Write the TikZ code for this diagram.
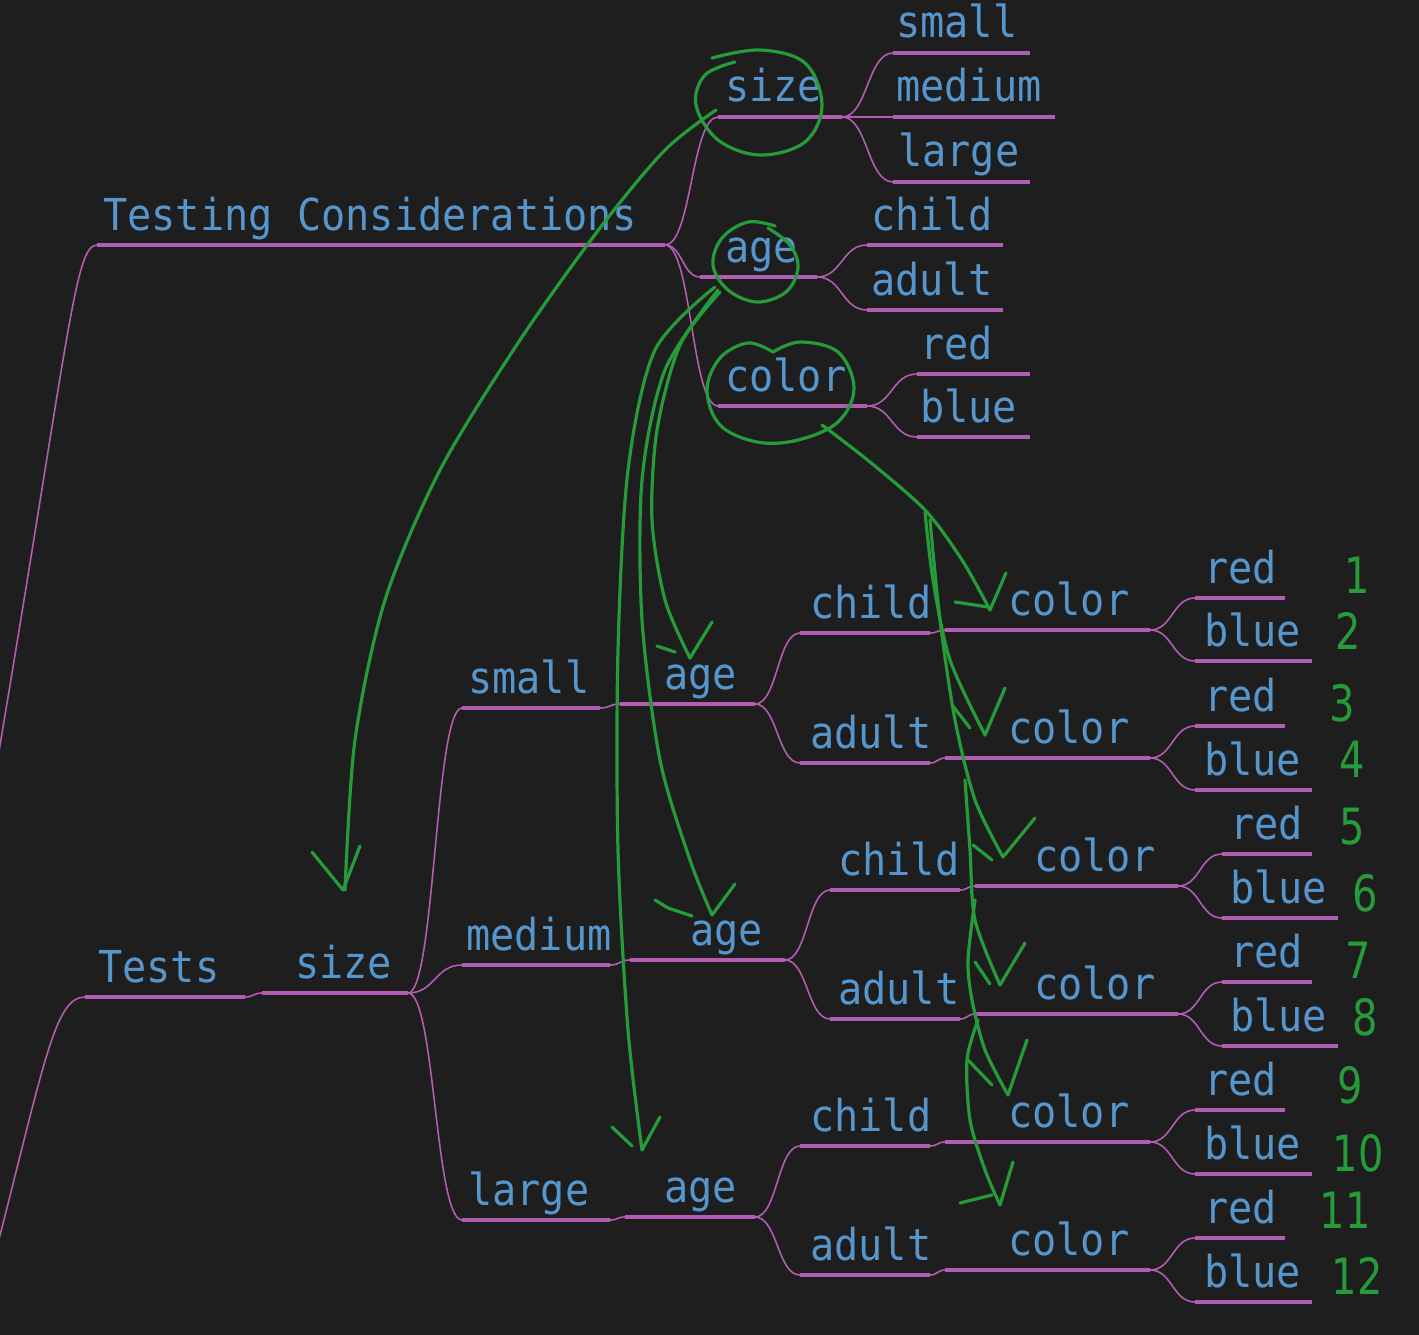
\documentclass[tikz,border=0pt]{standalone}
\usepackage{fontspec}
\usetikzlibrary{calc}
\newfontfamily\mmfont[FakeStretch=0.915]{DejaVu Sans Mono}
\newfontfamily\numfont[FakeStretch=0.8]{DejaVu Sans}
\definecolor{bg}{HTML}{1E1E1E}
\definecolor{txt}{RGB}{86,150,205}
\definecolor{lin}{RGB}{178,92,178}
\definecolor{pen}{RGB}{38,155,58}
\tikzset{
  lbl/.style={text=txt, font=\mmfont\fontsize{44}{50}\selectfont, inner sep=0pt, anchor=base west},
  uline/.style={draw=lin, line width=3.2pt},
  conn/.style={draw=lin, line width=1.6pt},
  penline/.style={draw=pen, line width=3.2pt, line cap=round, line join=round},
  numlbl/.style={text=pen, font=\numfont\fontsize{50}{56}\selectfont, inner sep=0pt},
}
\newcommand\mmitem[6]{%
  \coordinate (#1s) at (#2,#4);
  \coordinate (#1e) at (#3,#4);
  \draw[uline] (#1s) -- (#1e);
  \node[lbl] (#1) at (#5,#4-15) {#6};
}
\newcommand\mmlink[2]{%
  \draw[conn] let \p1=(#1e), \p2=(#2s) in
    (\p1) .. controls ({0.5*\x1+0.5*\x2},\y1) and ({0.5*\x1+0.5*\x2},\y2) .. (\p2);
}
\begin{document}
\begin{tikzpicture}[x=1pt,y=-1pt]
\fill[bg] (0,0) rectangle (1419,1335);
\useasboundingbox (0,0) rectangle (1419,1335);
\clip (0,0) rectangle (1419,1335);

% ---------- top tree ----------
\mmitem{tc}{97}{665}{245}{103}{Testing Considerations}
\mmitem{tsize}{718}{842}{117}{725}{size}
\mmitem{tsmall}{893}{1030}{53}{896}{small}
\mmitem{tmed}{893}{1055}{117}{896}{medium}
\mmitem{tlarge}{893}{1030}{182}{898}{large}
\mmitem{tage}{700}{817}{277}{725}{age}
\mmitem{tchild}{867}{1003}{245}{871}{child}
\mmitem{tadult}{867}{1003}{310}{871}{adult}
\mmitem{tcolor}{718}{867}{406}{725}{color}
\mmitem{tred}{917}{1030}{374}{920}{red}
\mmitem{tblue}{917}{1030}{437}{920}{blue}

\coordinate (offA) at (-5,775);
\draw[conn] (offA) .. controls (70,330) and (75,245) .. (tcs);
\mmlink{tc}{tsize}\mmlink{tc}{tage}\mmlink{tc}{tcolor}
\mmlink{tsize}{tsmall}\mmlink{tsize}{tmed}\mmlink{tsize}{tlarge}
\mmlink{tage}{tchild}\mmlink{tage}{tadult}
\mmlink{tcolor}{tred}\mmlink{tcolor}{tblue}

% ---------- bottom tree ----------
\mmitem{bt}{85}{245}{997}{98}{Tests}
\mmitem{bsize}{262}{408}{993}{295}{size}
\coordinate (offB) at (-5,1255);
\draw[conn] (offB) .. controls (45,1060) and (55,997) .. (bts);
\mmlink{bt}{bsize}

\mmitem{bsm}{462}{600}{708}{468}{small}
\mmitem{bsmage}{620}{755}{704}{664}{age}
\mmitem{bsmch}{800}{930}{633}{810}{child}
\mmitem{bsmchc}{945}{1150}{630}{1008}{color}
\mmitem{bsmchr}{1195}{1285}{598}{1204}{red}
\mmitem{bsmchb}{1195}{1312}{661}{1204}{blue}
\mmitem{bsmad}{800}{930}{763}{810}{adult}
\mmitem{bsmadc}{945}{1150}{758}{1008}{color}
\mmitem{bsmadr}{1195}{1285}{726}{1204}{red}
\mmitem{bsmadb}{1195}{1312}{790}{1204}{blue}

\mmitem{bmd}{462}{610}{965}{466}{medium}
\mmitem{bmdage}{630}{785}{960}{690}{age}
\mmitem{bmdch}{830}{960}{890}{838}{child}
\mmitem{bmdchc}{975}{1178}{886}{1034}{color}
\mmitem{bmdchr}{1222}{1312}{854}{1230}{red}
\mmitem{bmdchb}{1222}{1338}{918}{1230}{blue}
\mmitem{bmdad}{830}{960}{1019}{838}{adult}
\mmitem{bmdadc}{975}{1178}{1014}{1034}{color}
\mmitem{bmdadr}{1222}{1312}{982}{1230}{red}
\mmitem{bmdadb}{1222}{1338}{1046}{1230}{blue}

\mmitem{blg}{462}{610}{1220}{468}{large}
\mmitem{blgage}{625}{755}{1217}{664}{age}
\mmitem{blgch}{800}{930}{1146}{810}{child}
\mmitem{blgchc}{945}{1150}{1142}{1008}{color}
\mmitem{blgchr}{1195}{1285}{1110}{1204}{red}
\mmitem{blgchb}{1195}{1312}{1174}{1204}{blue}
\mmitem{blgad}{800}{930}{1275}{810}{adult}
\mmitem{blgadc}{945}{1150}{1270}{1008}{color}
\mmitem{blgadr}{1195}{1285}{1238}{1204}{red}
\mmitem{blgadb}{1195}{1312}{1302}{1204}{blue}

\mmlink{bsize}{bsm}\mmlink{bsize}{bmd}\mmlink{bsize}{blg}
\mmlink{bsm}{bsmage}\mmlink{bmd}{bmdage}\mmlink{blg}{blgage}
\mmlink{bsmage}{bsmch}\mmlink{bsmage}{bsmad}
\mmlink{bmdage}{bmdch}\mmlink{bmdage}{bmdad}
\mmlink{blgage}{blgch}\mmlink{blgage}{blgad}
\mmlink{bsmch}{bsmchc}\mmlink{bsmad}{bsmadc}
\mmlink{bmdch}{bmdchc}\mmlink{bmdad}{bmdadc}
\mmlink{blgch}{blgchc}\mmlink{blgad}{blgadc}
\mmlink{bsmchc}{bsmchr}\mmlink{bsmchc}{bsmchb}
\mmlink{bsmadc}{bsmadr}\mmlink{bsmadc}{bsmadb}
\mmlink{bmdchc}{bmdchr}\mmlink{bmdchc}{bmdchb}
\mmlink{bmdadc}{bmdadr}\mmlink{bmdadc}{bmdadb}
\mmlink{blgchc}{blgchr}\mmlink{blgchc}{blgchb}
\mmlink{blgadc}{blgadr}\mmlink{blgadc}{blgadb}

% ---------- green annotations ----------
% circles
\draw[penline] plot[smooth, tension=0.6] coordinates {(712,58) (760,50) (805,63) (822,105) (805,142) (760,155) (718,140) (696,105) (705,75) (735,62)};
\draw[penline] plot[smooth, tension=0.6] coordinates {(768,228) (790,245) (798,268) (786,292) (757,302) (728,290) (713,265) (722,238) (748,222) (775,226)};
\draw[penline] plot[smooth, tension=0.6] coordinates {(773,352) (800,342) (838,352) (854,388) (838,422) (798,440) (757,442) (720,425) (707,390) (720,358) (748,343) (773,352)};
% size arrow
\draw[penline] plot[smooth] coordinates {(716,110) (665,150) (600,228) (520,340) (440,470) (385,600) (355,740) (345,890)};
\draw[penline] (312,852) -- (343,890) -- (360,846);
% age arrows
\draw[penline] plot[smooth] coordinates {(720,292) (680,345) (657,430) (652,520) (665,600) (690,658)};
\draw[penline] (690,658) -- (712,622);
\draw[penline] (657,646) -- (675,652);
\draw[penline] plot[smooth] coordinates {(718,290) (665,370) (642,480) (642,620) (660,760) (690,860) (712,915)};
\draw[penline] (712,915) -- (735,884);
\draw[penline] (655,900) -- (668,908) -- (692,916);
\draw[penline] plot[smooth] coordinates {(715,287) (655,350) (628,470) (618,650) (618,850) (628,1030) (642,1150)};
\draw[penline] (642,1150) -- (660,1117);
\draw[penline] (612,1127) -- (632,1146);
% color arrows
\draw[penline] plot[smooth] coordinates {(822,425) (870,462) (925,510) (962,560) (990,610)};
\draw[penline] (990,610) -- (1006,573);
\draw[penline] (955,602) -- (988,607);
\draw[penline] plot[smooth] coordinates {(925,512) (933,580) (950,660) (985,735)};
\draw[penline] (985,735) -- (1005,688);
\draw[penline] (952,705) -- (970,728);
\draw[penline] plot[smooth] coordinates {(930,520) (940,620) (955,720) (975,800) (1003,857)};
\draw[penline] (1003,857) -- (1035,818);
\draw[penline] (973,845) -- (992,860);
\draw[penline] plot[smooth] coordinates {(965,780) (970,850) (975,920) (1000,985)};
\draw[penline] (1000,985) -- (1025,943);
\draw[penline] (975,962) -- (990,984);
\draw[penline] plot[smooth] coordinates {(975,900) (968,960) (972,1000) (985,1050) (1008,1095)};
\draw[penline] (1008,1095) -- (1027,1040);
\draw[penline] (968,1060) -- (992,1085);
\draw[penline] plot[smooth] coordinates {(978,1020) (967,1060) (970,1120) (985,1170) (1000,1205)};
\draw[penline] (1000,1205) -- (1013,1162);
\draw[penline] (960,1203) -- (992,1195);

% numbers
\node[numlbl] (n1) at (1357,575) {1};
\node[numlbl] (n2) at (1348,631) {2};
\node[numlbl] (n3) at (1342,703) {3};
\node[numlbl] (n4) at (1352,759) {4};
\node[numlbl] (n5) at (1352,827) {5};
\node[numlbl] (n6) at (1365,893) {6};
\node[numlbl] (n7) at (1358,960) {7};
\node[numlbl] (n8) at (1365,1017) {8};
\node[numlbl] (n9) at (1350,1085) {9};
\node[numlbl] (n10) at (1358,1153) {10};
\node[numlbl] (n11) at (1345,1210) {11};
\node[numlbl] (n12) at (1357,1276) {12};
\end{tikzpicture}
\end{document}
